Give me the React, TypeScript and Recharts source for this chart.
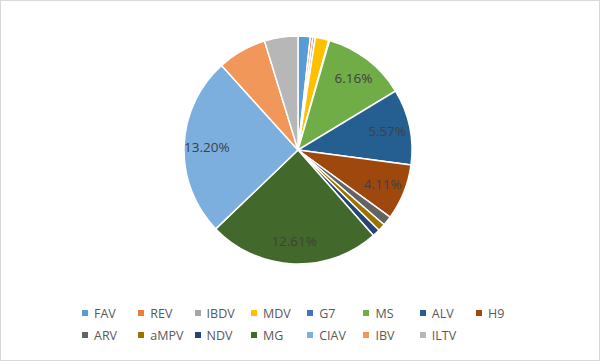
import { Cell, Legend, Pie, PieChart } from "recharts";

const names = [
  "FAV", "REV", "IBDV", "MDV", "G7", "MS", "ALV", "H9",
  "ARV", "aMPV", "NDV", "MG", "CIAV", "IBV", "ILTV",
];
const rates = [
  0.9, 0.18, 0.18, 1.0, 0.05, 6.16, 5.57, 4.11,
  0.7, 0.55, 0.55, 12.61, 13.2, 3.6, 2.46,
];
const colors = [
  "#5B9BD5", "#ED7D31", "#A5A5A5", "#FFC000", "#4472C4", "#70AD47", "#255E91", "#9E480E",
  "#636363", "#997300", "#264478", "#43682B", "#7CAFDD", "#F1975A", "#B7B7B7",
];

const data = names.map((n, i) => ({ name: n, value: rates[i], fill: colors[i] }));

const FONT = "'Open Sans', sans-serif";
const RAD = Math.PI / 180;

const renderLabel = (p: any) => {
  if (p.value < 4) return null;
  const r = p.outerRadius * 0.8;
  const x = p.cx + r * Math.cos(-p.midAngle * RAD);
  const y = p.cy + r * Math.sin(-p.midAngle * RAD);
  return (
    <text x={x} y={y} fill="#404040" fontSize={13.5} fontFamily={FONT} textAnchor="middle" dominantBaseline="central">
      {Number(p.value).toFixed(2)}%
    </text>
  );
};

const renderLegend = () => (
  <div style={{ display: "flex", flexWrap: "wrap", width: 460, marginLeft: 82, fontFamily: FONT }}>
    {data.map((d) => (
      <div key={d.name} style={{ width: 56.3, height: 22, display: "flex", alignItems: "center" }}>
        <div style={{ width: 6, height: 6, background: d.fill, marginRight: 6 }} />
        <span style={{ fontSize: 12.5, color: "#595959" }}>{d.name}</span>
      </div>
    ))}
  </div>
);

export default function App() {
  return (
    <div
      style={{
        position: "absolute",
        left: 0,
        top: 0,
        width: 600,
        height: 361,
        border: "1px solid #D9D9D9",
        boxSizing: "border-box",
        background: "#fff",
      }}
    >
      <PieChart
        width={600}
        height={361}
        margin={{ top: 0, right: 0, bottom: 0, left: 0 }}
        style={{ position: "absolute", left: -1, top: -1 }}
      >
        <Pie
          data={data}
          dataKey="value"
          nameKey="name"
          cx={298}
          cy={150}
          outerRadius={114}
          startAngle={90}
          endAngle={-270}
          stroke="#fff"
          strokeWidth={1.5}
          label={renderLabel}
          labelLine={false}
          isAnimationActive={false}
        >
          {data.map((d) => (
            <Cell key={d.name} fill={d.fill} />
          ))}
        </Pie>
        <Legend content={renderLegend} wrapperStyle={{ left: 0, top: 302, width: 600 }} />
      </PieChart>
    </div>
  );
}
